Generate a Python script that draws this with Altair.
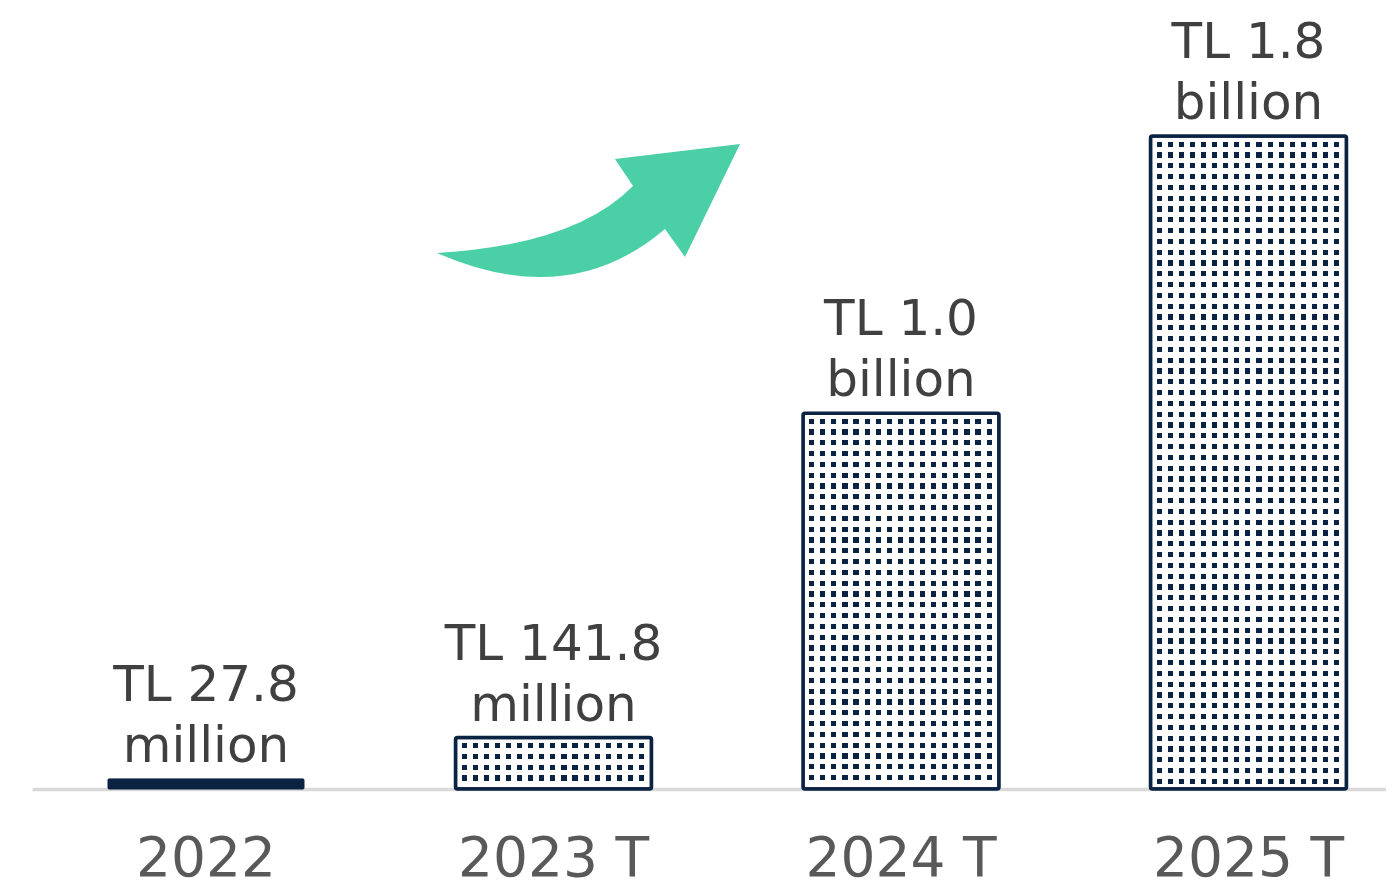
import altair as alt
import pandas as pd

# ---- data ----
years = ["2022", "2023 T", "2024 T", "2025 T"]
values_m = [27.8, 141.8, 1036, 1800]          # TL million
kinds = ["actual", "target", "target", "target"]
label_top = ["TL 27.8", "TL 141.8", "TL 1.0", "TL 1.8"]
label_bottom = ["million", "million", "billion", "billion"]

df = pd.DataFrame({"year": years, "value": values_m, "kind": kinds,
                   "top": label_top, "bottom": label_bottom})

NAVY = "#0a2342"
WHITE = "#ffffff"
CLEAR = "rgba(255,255,255,0)"
GREEN = "#4bcfa7"
FONT = "DejaVu Sans"

W, H = 1354, 781
YMAX = 2153
BANDW = 196


def stripes(length, offset, period, dot, on_color, off_color):
    st = [{"offset": 0, "color": off_color}]
    a = offset
    while a + dot <= length - 3:
        o1 = round(a / length, 5)
        o2 = round((a + dot) / length, 5)
        st += [{"offset": o1, "color": off_color}, {"offset": o1, "color": on_color},
               {"offset": o2, "color": on_color}, {"offset": o2, "color": off_color}]
        a += period
    st.append({"offset": 1, "color": off_color})
    return st


x_enc = alt.X(
    "year:N",
    sort=years,
    scale=alt.Scale(domain=years, paddingInner=0.436, paddingOuter=0.1662, align=0.658),
    axis=alt.Axis(title=None, ticks=False, tickSize=0, labelAngle=0, labelLimit=0,
                  labelFont=FONT, labelFontSize=55, labelColor="#595959",
                  labelBaseline="alphabetic", labelPadding=86,
                  domainColor="#d9d9d9", domainWidth=3.5, grid=False),
)
y_enc = alt.Y("value:Q", scale=alt.Scale(domain=[0, YMAX], nice=False), axis=None)

base = alt.Chart(df).encode(x=x_enc, y=y_enc)

layers = []
layers.append(
    base.transform_filter(alt.datum.kind == "actual")
    .mark_bar(fill=NAVY, stroke=NAVY, strokeWidth=1, cornerRadius=1)
)

for yr, v, k in zip(years, values_m, kinds):
    if k != "target":
        continue
    h = v * H / YMAX
    rows = {"gradient": "linear", "x1": 0, "y1": 0, "x2": 0, "y2": 1,
            "stops": stripes(h, 5.5, 10.8, 5.2, NAVY, WHITE)}
    cols = {"gradient": "linear", "x1": 0, "y1": 0, "x2": 1, "y2": 0,
            "stops": stripes(BANDW, 6, 11.1, 5.2, CLEAR, WHITE)}
    sub = base.transform_filter(alt.datum.year == yr)
    layers.append(sub.mark_bar(fill=rows, strokeWidth=0))
    layers.append(sub.mark_bar(fill=cols, stroke=NAVY, strokeWidth=3.5, cornerRadius=2))

layers.append(
    base.mark_text(font=FONT, fontSize=50, color="#404040", baseline="alphabetic", dy=-78)
    .encode(text="top:N")
)
layers.append(
    base.mark_text(font=FONT, fontSize=50, color="#404040", baseline="alphabetic", dy=-17)
    .encode(text="bottom:N")
)

arrow_path = ("M -0.997 0.273 Q -0.089 0.220 0.293 -0.168 L 0.174 -0.345 "
              "L 0.997 -0.444 L 0.635 0.299 L 0.503 0.115 Q -0.128 0.655 -0.997 0.273 Z")
arrow = alt.Chart(pd.DataFrame({"k": [0]})).mark_point(
    shape=arrow_path, filled=True, fill=GREEN, color=GREEN, opacity=1, strokeWidth=0,
    size=92416,
).encode(x=alt.value(556.5), y=alt.value(203.5))
layers.append(arrow)

chart = alt.layer(*layers).properties(
    width=W, height=H,
    autosize=alt.AutoSizeParams(type="none"),
    padding={"left": 24, "top": 0, "right": 0, "bottom": 94},
).configure_view(stroke=None)

chart.save("out.html", embed_options={"renderer": "svg", "actions": False})
